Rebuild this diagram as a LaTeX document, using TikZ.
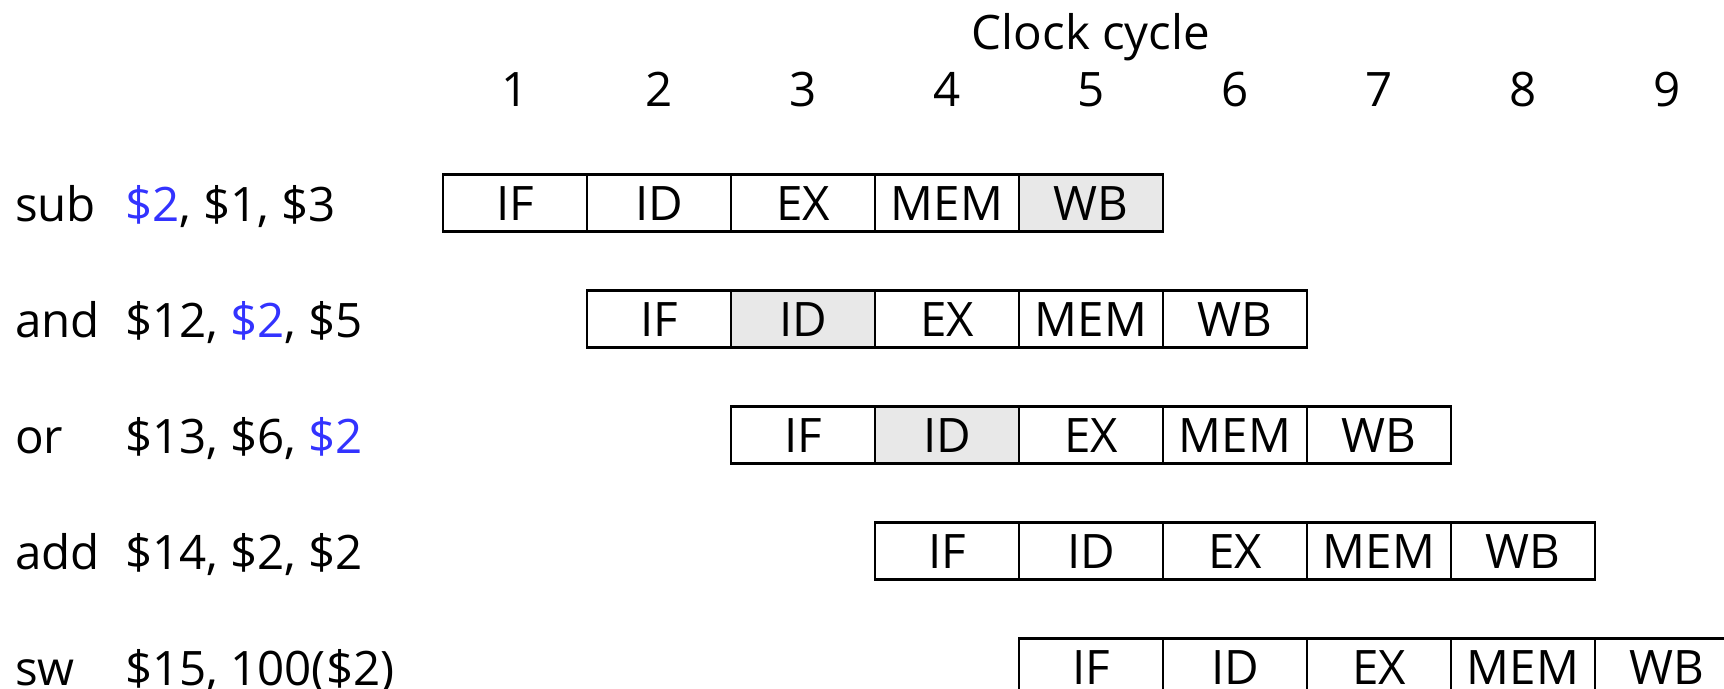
\documentclass[tikz,border=0pt]{standalone}
\usepackage{fontspec}
\setmainfont{Open Sans}
\definecolor{hiblue}{RGB}{51,51,255}
\definecolor{hifill}{RGB}{232,232,232}
\begin{document}
\begin{tikzpicture}[x=1pt,y=-1pt,
  every node/.style={font=\fontsize{47.5}{57}\selectfont, inner sep=0pt, outer sep=0pt},
  stagebox/.style={draw, line width=2.7pt, minimum width=144pt, minimum height=57pt, text height=34pt, text depth=0pt},
  hot/.style={fill=hifill},
  lbl/.style={anchor=base west}
]
\useasboundingbox (0,0) rectangle (1724,688);
\clip (0,0) rectangle (1724,688);
\fill[white] (0,0) rectangle (1724,688);

\node[anchor=base] (title) at (1091,49) {Clock cycle};
\foreach \k in {1,...,9} {
  \node[anchor=base] (n\k) at ({515+144*(\k-1)},106) {\k};
}

% stage boxes
\def\stages{{"IF","ID","EX","MEM","WB"}}
\foreach \r in {0,...,4} {
  \foreach \c/\s in {0/IF,1/ID,2/EX,3/MEM,4/WB} {
    \pgfmathsetmacro{\cx}{515+144*(\r+\c)}
    \pgfmathsetmacro{\cy}{203+116*\r}
    \pgfmathtruncatemacro{\hot}{(\r==0 && \c==4) || (\r==1 && \c==1) || (\r==2 && \c==1)}
    \ifnum\hot=1
      \node[stagebox, hot] (s\r\c) at (\cx,\cy) {\s};
    \else
      \node[stagebox] (s\r\c) at (\cx,\cy) {\s};
    \fi
  }
}

% instruction labels
\node[lbl] (op0) at (15,221) {sub};
\node[lbl] (ar0) at (125,221) {{\color{hiblue}\$2}, \$1, \$3};
\node[lbl] (op1) at (15,337) {and};
\node[lbl] (ar1) at (125,337) {\$12, {\color{hiblue}\$2}, \$5};
\node[lbl] (op2) at (15,453) {or};
\node[lbl] (ar2) at (125,453) {\$13, \$6, {\color{hiblue}\$2}};
\node[lbl] (op3) at (15,569) {add};
\node[lbl] (ar3) at (125,569) {\$14, \$2, \$2};
\node[lbl] (op4) at (15,685) {sw};
\node[lbl] (ar4) at (125,685) {\$15, 100(\$2)};
\end{tikzpicture}
\end{document}
